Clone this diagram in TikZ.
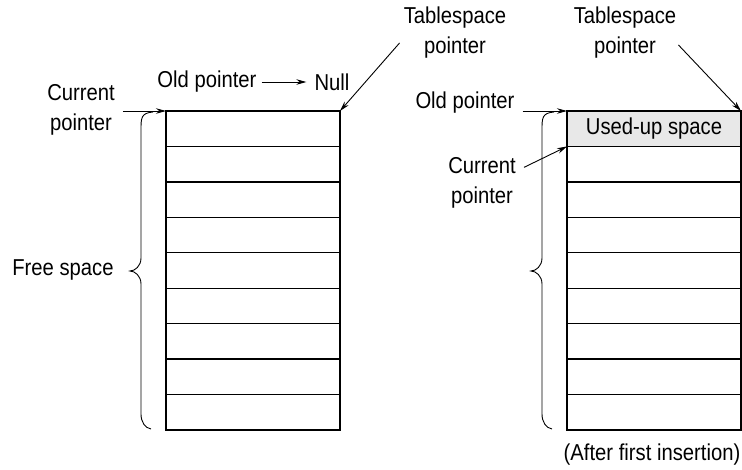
\documentclass[tikz,border=0pt]{standalone}
\usepackage{fontspec}
\setmainfont{Liberation Sans}[FakeStretch=0.88]
\usepackage{tikz}
\usetikzlibrary{arrows.meta,calc,positioning}

\begin{document}
\begin{tikzpicture}[x=1pt,y=-1pt,font=\fontsize{23}{30}\selectfont,
  zelle/.style={draw,line width=1.4pt,minimum width=174pt,minimum height=35.44pt,inner sep=0pt,outer sep=0pt},
  zeiger/.style={-{Stealth[length=10pt,width=5.5pt]},line width=0.9pt},
  txt/.style={align=center,inner sep=2pt}]
\useasboundingbox (0,0) rectangle (742,469);
%Zeilenhoehe der Tabelle: 319 Punkte auf 9 Zeilen
  \pgfmathsetmacro{\zh}{319/9}
\foreach \i in {1,...,9}{
  \node[zelle] (L\i) at (253,{111+\zh*(\i-0.5)}) {};
}
\node[zelle,fill=gray!18] (R1) at (654,{111+\zh*0.5}) {Used-up space};
\foreach \i in {2,...,9}{
  \node[zelle] (R\i) at (654,{111+\zh*(\i-0.5)}) {};
}
%geschweifte Klammern links neben den Tabellen
\foreach \bx in {141,542}{
\draw[line width=0.9pt] (\bx+12,112) .. controls (\bx,113) and (\bx,118) .. (\bx,130) -- (\bx,258) .. controls (\bx,266) and (\bx-6,271) .. (\bx-11,271) .. controls (\bx-6,271) and (\bx,276) .. (\bx,284) -- (\bx,414) .. controls (\bx,422) and (\bx+4,428) .. (\bx+10,429);
}
\node[txt] (curL) at (81,110) {Current\\pointer};
\node[txt] (oldL) at (207,82) {Old pointer};
\node[txt] (nullL) at (332,82) {Null};
\node[txt] (tsL) at (455,33) {Tablespace\\pointer};
\node[txt] (freeL) at (63,270) {Free space};
\node[txt] (tsR) at (625,33) {Tablespace\\pointer};
\node[txt] (oldR) at (465,103) {Old pointer};
\node[txt] (curR) at (482,183) {Current\\pointer};
\node[txt] (after) at (652,455) {(After first insertion)};
\draw[zeiger] ([xshift=6pt]curL.east |- L1.north west) -- (L1.north west);
\draw[zeiger,shorten <=3pt,shorten >=6pt] (oldL) -- (nullL);
\draw[zeiger] ([shift={(-2,-18)}]tsL.south west) -- (L1.north east);
\draw[zeiger] ([shift={(0,-16)}]tsR.south east) -- (R1.north east);
\draw[zeiger] ([xshift=6pt]oldR.east |- R1.north west) -- (R1.north west);
\draw[zeiger] ([shift={(6,12)}]curR.north east) -- (R2.north west);
\end{tikzpicture}
\end{document}
